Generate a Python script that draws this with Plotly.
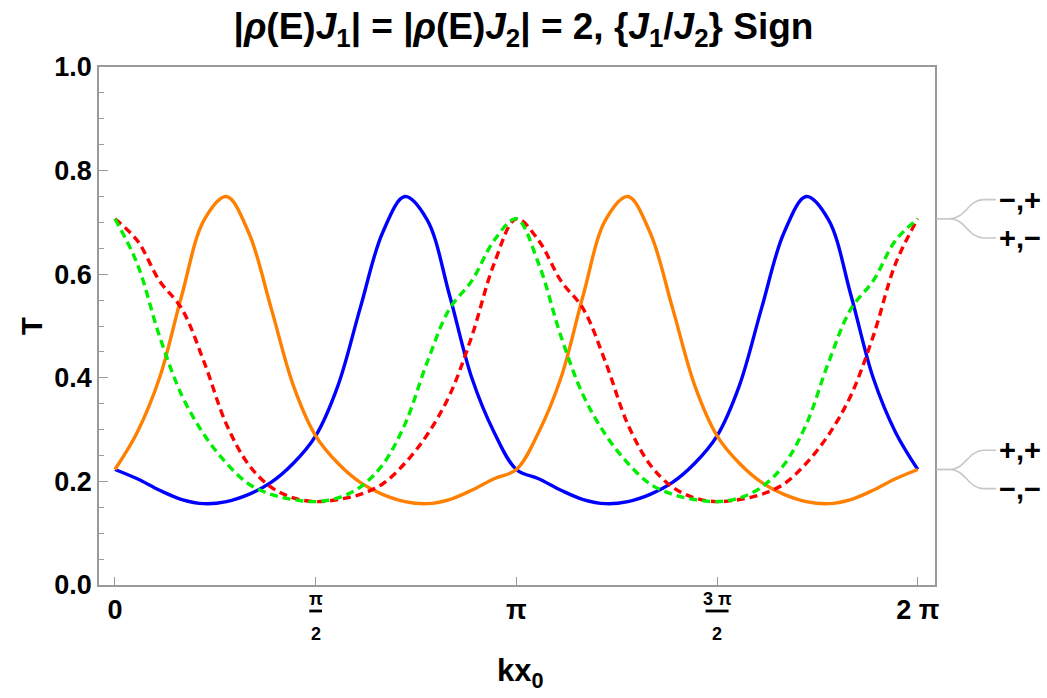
import math
import plotly.graph_objects as go

# ---- data (grid step = pi/18 over [0, 2pi]) ----
grid_steps = list(range(37))
kx0 = [s * math.pi / 18 for s in grid_steps]

T_pp = [0.223, 0.205, 0.183, 0.165, 0.157, 0.161, 0.175, 0.198, 0.235, 0.288,
        0.385, 0.535, 0.680, 0.750, 0.705, 0.560, 0.400, 0.295, 0.223,
        0.205, 0.183, 0.165, 0.157, 0.161, 0.175, 0.198, 0.235, 0.288,
        0.385, 0.535, 0.680, 0.750, 0.705, 0.560, 0.400, 0.295, 0.223]   # blue
T_mm = [0.223, 0.295, 0.400, 0.560, 0.705, 0.750, 0.680, 0.535, 0.385, 0.288,
        0.235, 0.198, 0.175, 0.161, 0.157, 0.165, 0.183, 0.205, 0.223,
        0.295, 0.400, 0.560, 0.705, 0.750, 0.680, 0.535, 0.385, 0.288,
        0.235, 0.198, 0.175, 0.161, 0.157, 0.165, 0.183, 0.205, 0.223]   # orange
T_pm = [0.707, 0.665, 0.587, 0.533, 0.430, 0.310, 0.232, 0.189, 0.168, 0.161,
        0.165, 0.175, 0.195, 0.235, 0.290, 0.366, 0.480, 0.620, 0.707,
        0.665, 0.587, 0.533, 0.430, 0.310, 0.232, 0.189, 0.168, 0.161,
        0.165, 0.175, 0.195, 0.235, 0.290, 0.366, 0.480, 0.620, 0.707]   # red dashed
T_mp = [0.707, 0.620, 0.480, 0.366, 0.290, 0.235, 0.195, 0.175, 0.165, 0.161,
        0.168, 0.189, 0.232, 0.310, 0.430, 0.533, 0.587, 0.665, 0.707,
        0.620, 0.480, 0.366, 0.290, 0.235, 0.195, 0.175, 0.165, 0.161,
        0.168, 0.189, 0.232, 0.310, 0.430, 0.533, 0.587, 0.665, 0.707]   # green dashed

x_tick_vals = [0, math.pi / 2, math.pi, 3 * math.pi / 2, 2 * math.pi]
x_tick_text = ["0", "", "π", "", "2 π"]
frac_num = {math.pi / 2: "π", 3 * math.pi / 2: "3 π"}
y_tick_vals = [0.0, 0.2, 0.4, 0.6, 0.8, 1.0]

FONT = "Liberation Sans"
FRAME = "#9a9a9a"
LW = 3.4

fig = go.Figure()
fig.add_trace(go.Scatter(x=kx0, y=T_pp, mode="lines", name="+,+",
                         line=dict(color="#0000ff", width=LW, shape="spline", smoothing=1)))
fig.add_trace(go.Scatter(x=kx0, y=T_mm, mode="lines", name="−,−",
                         line=dict(color="#ff8000", width=LW, shape="spline", smoothing=1)))
fig.add_trace(go.Scatter(x=kx0, y=T_pm, mode="lines", name="+,−",
                         line=dict(color="#ff0000", width=LW, dash="8px,5px",
                                   shape="spline", smoothing=1)))
fig.add_trace(go.Scatter(x=kx0, y=T_mp, mode="lines", name="−,+",
                         line=dict(color="#00ee00", width=LW, dash="8px,5px",
                                   shape="spline", smoothing=1)))

fig.update_layout(
    width=1047, height=698,
    margin=dict(l=99, r=112, t=67, b=113),
    paper_bgcolor="white", plot_bgcolor="white",
    showlegend=False,
    title=dict(
        text="<b>|<i>ρ</i>(E)<i>J</i><sub>1</sub>| = |<i>ρ</i>(E)<i>J</i><sub>2</sub>| = 2, "
             "{<i>J</i><sub>1</sub>/<i>J</i><sub>2</sub>} Sign</b>",
        x=0.5, xref="container", xanchor="center",
        y=1 - 26 / 698, yref="container", yanchor="middle",
        font=dict(family=FONT, size=37, color="black")),
)

fig.update_xaxes(
    range=[-0.125, 6.418], tickvals=x_tick_vals, ticktext=x_tick_text,
    ticks="inside", ticklen=8, tickwidth=1.2, tickcolor=FRAME,
    showline=True, linecolor=FRAME, linewidth=1.5, mirror=True,
    showgrid=False, zeroline=False,
    tickfont=dict(family=FONT, size=27, color="black", weight="bold"),
)
fig.update_yaxes(
    range=[0, 1], tickvals=y_tick_vals, tickformat=".1f",
    ticks="inside", ticklen=9, tickwidth=1.2, tickcolor=FRAME,
    minor=dict(dtick=0.05, ticks="inside", ticklen=5, tickwidth=1.2, tickcolor=FRAME),
    showline=True, linecolor=FRAME, linewidth=1.5, mirror=True,
    showgrid=False, zeroline=False,
    tickfont=dict(family=FONT, size=27, color="black", weight="bold"),
)

annotations = []
shapes = []
# stacked fraction tick labels
for v, num in frac_num.items():
    annotations.append(dict(x=v, xref="x", y=0, yref="paper", yshift=-14,
                            text="<b>" + num + "</b>", showarrow=False,
                            yanchor="middle", xanchor="center",
                            font=dict(family=FONT, size=18, color="black")))
    annotations.append(dict(x=v, xref="x", y=0, yref="paper", yshift=-49,
                            text="<b>2</b>", showarrow=False,
                            yanchor="middle", xanchor="center",
                            font=dict(family=FONT, size=18, color="black")))
    half = 0.05 if len(num) == 1 else 0.09
    shapes.append(dict(type="line", xref="x", yref="paper",
                       x0=v - half, x1=v + half, y0=-26 / 518, y1=-26 / 518,
                       line=dict(color="black", width=2.8)))

# axis titles
annotations.append(dict(x=(520 - 99) / 836, xref="paper", y=-88 / 518, yref="paper",
                        text="<b>kx<sub>0</sub></b>", showarrow=False,
                        xanchor="center", yanchor="middle",
                        font=dict(family=FONT, size=31, color="black")))
annotations.append(dict(x=(32 - 99) / 836, xref="paper", y=0.5, yref="paper",
                        text="<b>T</b>", showarrow=False, textangle=-90,
                        xanchor="center", yanchor="middle",
                        font=dict(family=FONT, size=29, color="black")))

# right-hand callouts
d = 0.037
groups = [(T_pm[-1], "−,+", "+,−"), (T_pp[-1], "+,+", "−,−")]
for y0, top, bot in groups:
    for sgn, lab in ((1, top), (-1, bot)):
        y1 = y0 + sgn * d
        shapes.append(dict(type="path", xref="paper", yref="y",
                           path=f"M 1.002,{y0} L 1.018,{y0} C 1.036,{y0} 1.040,{y1} 1.058,{y1} L 1.073,{y1}",
                           line=dict(color="#c8c8c8", width=1.6)))
        annotations.append(dict(x=1.074, xref="paper", y=y1, yref="y",
                                text="<b>" + lab + "</b>", showarrow=False,
                                xanchor="left", yanchor="middle",
                                font=dict(family=FONT, size=29, color="black")))

fig.update_layout(annotations=annotations, shapes=shapes)
fig.write_html("out.html")
